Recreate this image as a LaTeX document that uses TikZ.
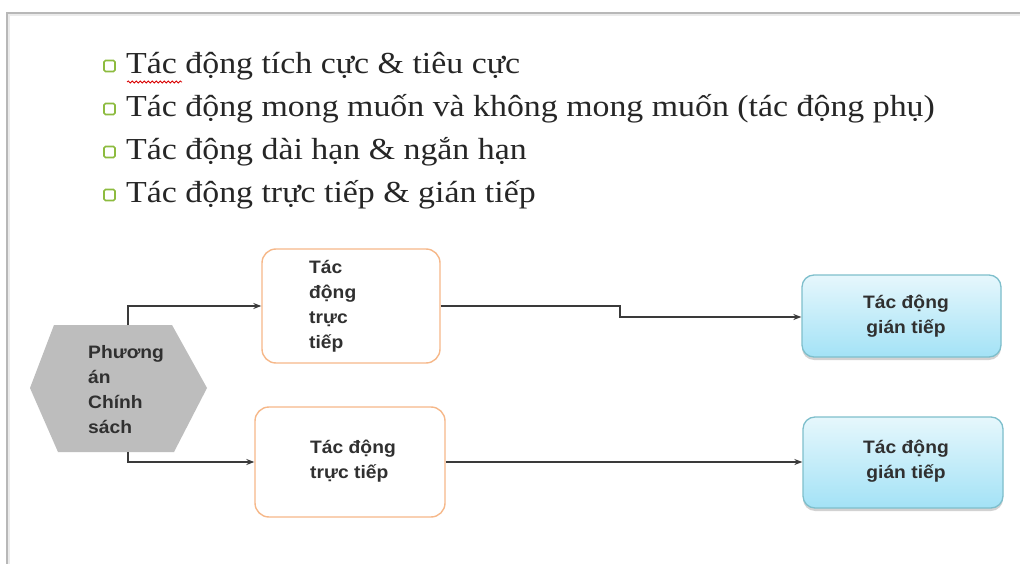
\documentclass[tikz,border=0pt]{standalone}
\usepackage{fontspec}
\setmainfont{Liberation Serif}
\newfontfamily\boxfont{Liberation Sans}
\usetikzlibrary{arrows.meta,decorations.pathmorphing,shadows}
\definecolor{framegray}{HTML}{B8B8B8}
\definecolor{hexgray}{HTML}{BDBDBD}
\definecolor{orangeedge}{HTML}{F6B889}
\definecolor{cyanedge}{HTML}{7EBFCC}
\definecolor{cyantop}{HTML}{E6F7FC}
\definecolor{cyanbot}{HTML}{A3E2F6}
\definecolor{bulletgreen}{HTML}{8DBB3F}
\definecolor{linkgray}{HTML}{3A3A3A}
\definecolor{textdark}{HTML}{262626}
\definecolor{boxink}{HTML}{303030}
% wide set text, as on the slide
\newcommand{\wideser}[1]{\scalebox{1.11}[1]{#1}}
\newcommand{\widesan}[1]{\scalebox{1.07}[1]{#1}}
\begin{document}
\begin{tikzpicture}[x=1pt,y=-1pt,
  bullettext/.style={anchor=west,inner sep=0pt,text=textdark,font=\fontsize{30.5}{36}\selectfont},
  bulletbox/.style={draw=bulletgreen,line width=1.6pt,fill=white,rounded corners=1.5pt,minimum size=11pt,inner sep=0pt},
  directbox/.style={draw=orangeedge,line width=1.4pt,fill=white,rounded corners=14pt,inner sep=0pt},
  indirectbox/.style={draw=cyanedge,line width=1.3pt,top color=cyantop,bottom color=cyanbot,rounded corners=12pt,inner sep=0pt,
    drop shadow={shadow xshift=0pt,shadow yshift=-3pt,opacity=0.35}},
  boxtext/.style={text=boxink,inner sep=0pt,font=\boxfont\bfseries\fontsize{18}{25}\selectfont},
  link/.style={draw=linkgray,line width=1.2pt,-{Stealth[length=8pt,width=6pt]}}]
\useasboundingbox (0,0) rectangle (1020,564);
\fill[white] (0,0) rectangle (1020,564);
% slide frame
\draw[framegray,line width=1.5pt] (7,564) -- (7,13) -- (1020,13);
\draw[black!8,line width=2pt] (9,566) -- (9,15.5) -- (1020,15.5);

% bullet list
\foreach \y/\t [count=\i] in {66/{Tác động tích cực \& tiêu cực},
  109/{Tác động mong muốn và không mong muốn (tác động phụ)},
  152/{Tác động dài hạn \&  ngắn hạn},
  195/{Tác động trực tiếp \& gián tiếp}} {
  \node[bulletbox] (sq\i) at (109.5,\y) {};
  \node[bullettext] (item\i) at (126,\y) {\wideser{\t}};
}
% spelling mark under the first word
\draw[red!85!black,line width=0.8pt,decorate,decoration={snake,amplitude=1pt,segment length=4pt}]
  (127,82) -- (182,82);

% policy option hexagon
\fill[hexgray] (30,388) -- (54,325) -- (172,325) -- (207,388) -- (174,452) -- (58,452) -- cycle;
\node[boxtext,anchor=west,align=left] (hex) at (88,389.5)
  {\widesan{Phương}\\\widesan{án}\\\widesan{Chính}\\\widesan{sách}};
\coordinate (hexTop) at (128,325);
\coordinate (hexBot) at (128,452);

% direct effects
\node[directbox,minimum width=178pt,minimum height=114pt] (d1) at (351,306) {};
\node[boxtext,anchor=west,align=left] (d1t) at (309,306)
  {\widesan{Tác}\\\widesan{động}\\\widesan{trực}\\\widesan{tiếp}};
\node[directbox,minimum width=190pt,minimum height=110pt] (d2) at (350,462) {};
\node[boxtext,anchor=west,align=left] (d2t) at (310,461)
  {\widesan{Tác động}\\\widesan{trực tiếp}};

% indirect effects
\node[indirectbox,minimum width=199pt,minimum height=82pt] (i1) at (901.5,316) {};
\node[boxtext,align=center] (i1t) at (906,316) {\widesan{Tác động}\\\widesan{gián tiếp}};
\node[indirectbox,minimum width=200pt,minimum height=91pt] (i2) at (903,462.5) {};
\node[boxtext,align=center] (i2t) at (906,461) {\widesan{Tác động}\\\widesan{gián tiếp}};

% connectors
\draw[link] (hexTop) |- (d1.west);
\draw[link] (hexBot) |- (d2.west);
\draw[link] (d1.east) -- (620,306) -- (620,317) -- (i1.west |- 620,317);
\draw[link] (d2.east) -- (d2.east -| i2.west);
\end{tikzpicture}
\end{document}
